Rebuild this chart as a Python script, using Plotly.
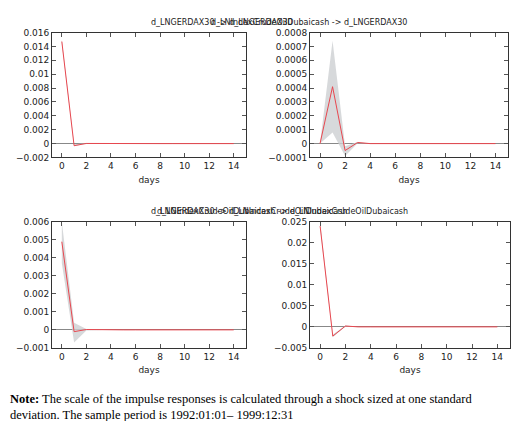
import plotly.graph_objects as go

days = list(range(15))

# response, lower band, upper band
tl_resp = [0.0147, -0.0003, 0.00002] + [0] * 12
tl_lo = [0.0144, -0.0004, 0.0] + [0] * 12
tl_hi = [0.0150, -0.0001, 0.00004] + [0] * 12

tr_resp = [0, 0.00041, -0.00005, 0.000008, 0] + [0] * 10
tr_lo = [0, 0.00008, -0.00009, 0.000002, 0] + [0] * 10
tr_hi = [0, 0.00074, -0.00002, 0.000012, 0] + [0] * 10

bl_resp = [0.0049, -0.0001, 0.00002] + [0] * 12
bl_lo = [0.0037, -0.0007, -0.00003] + [0] * 12
bl_hi = [0.0060, 0.0004, 0.00005] + [0] * 12

br_resp = [0.024, -0.0022, 0.0002] + [0] * 12
br_lo = [0.0235, -0.0025, 0.0001] + [0] * 12
br_hi = [0.0250, -0.0018, 0.0003] + [0] * 12

titles = ["d_LNGERDAX30 -> d_LNGERDAX30",
          "d_LNIndexCrudeOilDubaicash -> d_LNGERDAX30",
          "d_LNGERDAX30 -> d_LNIndexCrudeOilDubaicash",
          "d_LNIndexCrudeOilDubaicash -> d_LNIndexCrudeOilDubaicash"]

panels = [
    (tl_resp, tl_lo, tl_hi, [-0.002, 0.016], 0.002, [44, 238], [20, 148]),
    (tr_resp, tr_lo, tr_hi, [-0.0001, 0.0008], 0.0001, [302, 500], [20, 148]),
    (bl_resp, bl_lo, bl_hi, [-0.001, 0.006], 0.001, [44, 238], [214, 343]),
    (br_resp, br_lo, br_hi, [-0.005, 0.025], 0.005, [302, 502], [214, 343]),
]

W, H = 520, 421
fig = go.Figure()
font = dict(family="DejaVu Sans", size=9, color="#222")
tfont = dict(family="DejaVu Sans", size=8, color="#222")
ann = []
for i, (resp, lo, hi, yr, dt, xd, yd) in enumerate(panels):
    n = "" if i == 0 else str(i + 1)
    xa, ya = "x" + n, "y" + n
    fig.add_trace(go.Scatter(x=days, y=hi, mode="lines", line=dict(width=0),
                             xaxis=xa, yaxis=ya, showlegend=False))
    fig.add_trace(go.Scatter(x=days, y=lo, mode="lines", line=dict(width=0),
                             fill="tonexty", fillcolor="rgba(205,207,210,0.8)",
                             xaxis=xa, yaxis=ya, showlegend=False))
    fig.add_trace(go.Scatter(x=days, y=resp, mode="lines",
                             line=dict(color="#e8474f", width=1),
                             xaxis=xa, yaxis=ya, showlegend=False))
    dom_x = [xd[0] / W, xd[1] / W]
    dom_y = [1 - yd[1] / H, 1 - yd[0] / H]
    common = dict(showline=True, mirror="ticks", linecolor="#333", linewidth=1,
                  ticks="inside", ticklen=4, tickcolor="#555", showgrid=False,
                  tickfont=font)
    fig.layout["xaxis" + n] = dict(domain=dom_x, range=[-0.8, 15], dtick=2,
                                   tick0=0, anchor=ya, zeroline=False,
                                   title=dict(text="days", font=font, standoff=6),
                                   **common)
    fig.layout["yaxis" + n] = dict(domain=dom_y, range=yr, dtick=dt, anchor=xa,
                                   zeroline=True, zerolinecolor="#888",
                                   zerolinewidth=1, tickformat=".4~f", **common)
    ann.append(dict(text=titles[i], x=(dom_x[0] + dom_x[1]) / 2, y=dom_y[1],
                    xref="paper", yref="paper", yanchor="bottom", yshift=4,
                    showarrow=False, font=tfont))

ann.append(dict(text="<b>Note:</b> The scale of the impulse responses is calculated through a shock sized at one standard<br>"
                     "deviation. The sample period is 1992:01:01– 1999:12:31",
                x=0.0, y=0.0, xref="paper", yref="paper", xanchor="left",
                yanchor="bottom", align="left", showarrow=False,
                font=dict(family="Liberation Serif", size=12.5, color="#000")))

fig.update_layout(width=W, height=H, margin=dict(l=0, r=0, t=0, b=0),
                  plot_bgcolor="white", paper_bgcolor="white", annotations=ann)
fig.write_html("out.html")
